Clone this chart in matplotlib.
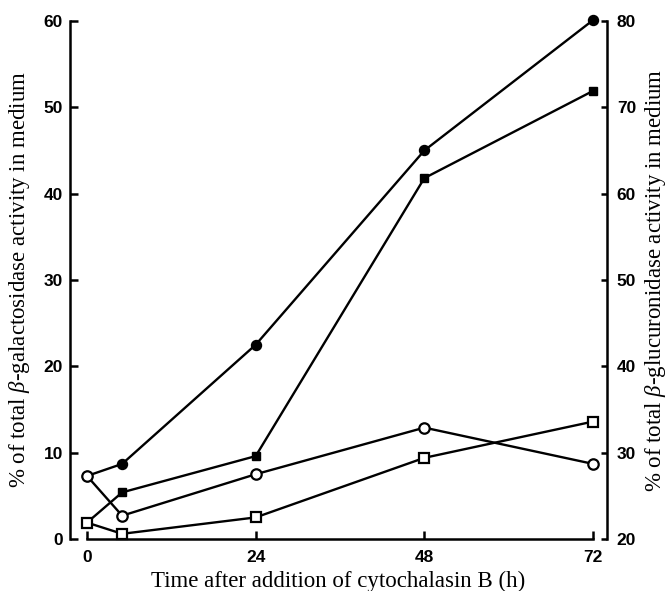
import matplotlib
matplotlib.use("Agg")
import matplotlib.pyplot as plt
from matplotlib.font_manager import FontProperties

# time points (h)
time_h = [0, 5, 24, 48, 72]
x_ticks = [0, 24, 48, 72]

# beta-galactosidase (left axis, %)
galact_filled = [7.3, 8.7, 22.5, 45.0, 60.1]
galact_open = [7.3, 2.7, 7.5, 12.9, 8.7]
# beta-glucuronidase (right axis, %)
glucur_filled = [21.9, 25.4, 29.6, 61.8, 71.9]
glucur_open = [21.9, 20.6, 22.5, 29.4, 33.6]

left_ticks = [0, 10, 20, 30, 40, 50, 60]
right_ticks = [20, 30, 40, 50, 60, 70, 80]

plt.rcParams['mathtext.fontset'] = 'custom'
plt.rcParams['mathtext.it'] = 'Liberation Serif:italic'
plt.rcParams['mathtext.rm'] = 'Liberation Serif'

fig = plt.figure(figsize=(6.68, 5.91), dpi=100)
ax = fig.add_axes([0.1048, 0.088, 0.804, 0.8765])
ax2 = ax.twinx()

lw = 1.7
ax.plot(time_h, galact_filled, '-o', color='black', lw=lw, ms=7.2, mfc='black', clip_on=False, zorder=3)
ax.plot(time_h, galact_open, '-o', color='black', lw=lw, ms=7.5, mfc='white', mew=1.6, clip_on=False, zorder=4)
ax2.plot(time_h, glucur_filled, '-s', color='black', lw=lw, ms=6.2, mfc='black', clip_on=False, zorder=3)
ax2.plot(time_h, glucur_open, '-s', color='black', lw=lw, ms=6.5, mfc='white', mew=1.6, clip_on=False, zorder=4)

ax.set_xlim(-2.42, 74.0)
ax.set_ylim(0, 60)
ax2.set_ylim(20, 80)

for a in (ax, ax2):
    a.spines['top'].set_visible(False)
    a.spines['bottom'].set_bounds(0, 72)
    a.patch.set_visible(False)
ax.spines['right'].set_visible(False)
ax2.spines['left'].set_visible(False)
ax2.spines['bottom'].set_visible(False)
ax.spines['left'].set_bounds(0, 60)
ax2.spines['right'].set_bounds(20, 80)
for s in ('left', 'bottom'):
    ax.spines[s].set_linewidth(1.8)
ax2.spines['right'].set_linewidth(1.8)

ax.set_xticks(x_ticks)
ax.set_xticklabels([str(t) for t in x_ticks])
ax.set_yticks(left_ticks)
ax.set_yticklabels([str(t) for t in left_ticks])
ax2.set_yticks(right_ticks)
ax2.set_yticklabels([str(t) for t in right_ticks])

tickfont = FontProperties(family='Liberation Sans', weight='bold', size=12.5)
ax.tick_params(axis='x', direction='in', length=6, width=1.8, pad=8)
ax.tick_params(axis='y', direction='in', length=6, width=1.8, pad=5)
ax2.tick_params(axis='y', direction='in', length=4, width=1.8, pad=7)
for lab in ax.get_xticklabels() + ax.get_yticklabels() + ax2.get_yticklabels():
    lab.set_fontproperties(tickfont)

labfont = dict(family='Liberation Serif', size=16.5)
ax.set_xlabel('Time after addition of cytochalasin B (h)', **labfont, labelpad=4)
ax.set_ylabel(r'% of total $\mathit{\beta}$-galactosidase activity in medium', **labfont)
ax2.set_ylabel(r'% of total $\mathit{\beta}$-glucuronidase activity in medium', **labfont)
ax.yaxis.set_label_coords(-0.071, 0.5)
ax2.yaxis.set_label_coords(1.066, 0.5)

fig.savefig('out.png', dpi=100)
